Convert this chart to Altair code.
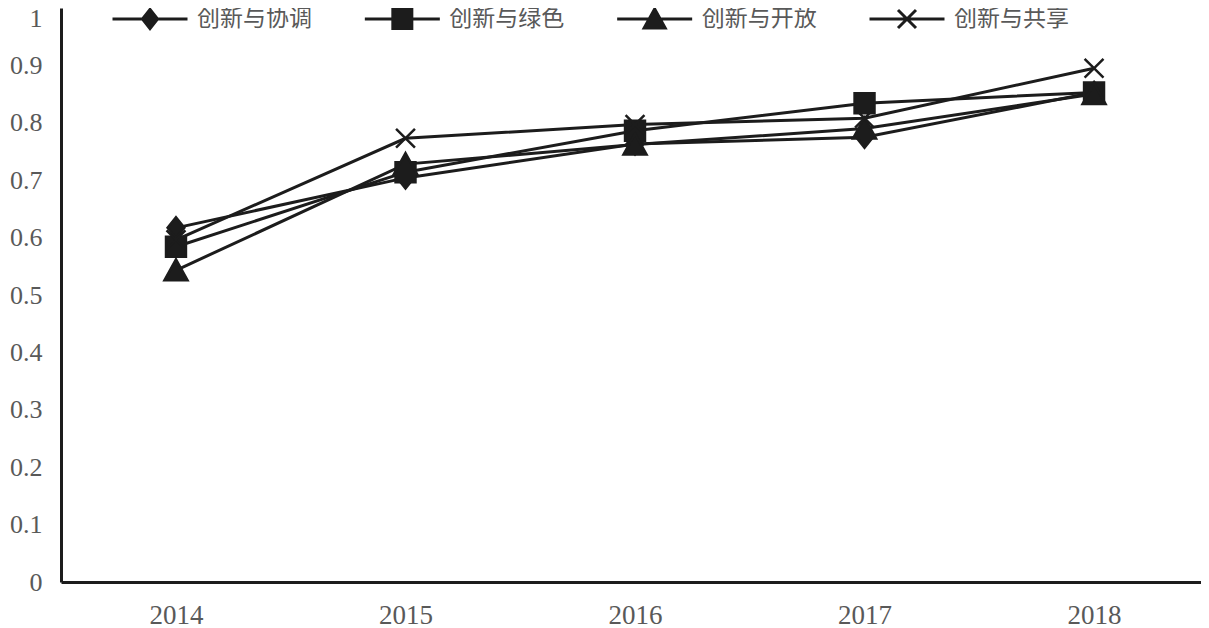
import altair as alt
import pandas as pd

# ---- data ----
years = [2014, 2015, 2016, 2017, 2018]
series = ["创新与协调", "创新与绿色", "创新与开放", "创新与共享"]
v_xietiao = [0.617, 0.704, 0.763, 0.775, 0.853]
v_lvse = [0.584, 0.714, 0.786, 0.834, 0.853]
v_kaifang = [0.543, 0.728, 0.762, 0.790, 0.850]
v_gongxiang = [0.596, 0.773, 0.797, 0.808, 0.895]
y_ticks = [0, 0.1, 0.2, 0.3, 0.4, 0.5, 0.6, 0.7, 0.8, 0.9, 1]
legend_slot = [0, 1, 2, 3]

rows = []
for name, vals in zip(series, [v_xietiao, v_lvse, v_kaifang, v_gongxiang]):
    for yr, v in zip(years, vals):
        rows.append({"year": yr, "series": name, "value": v})
df = pd.DataFrame(rows)
legend_df = pd.DataFrame({"series": series, "slot": legend_slot})

INK = "#1c1c1c"
LABEL = "#595959"

# marker shapes (unit paths, scaled by symbol size)
marker_paths = [
    "M0,-1L0.8,0L0,1L-0.8,0Z",
    "M-0.95,-0.95H0.95V0.95H-0.95Z",
    "M0,-1.05L1.1,0.95H-1.1Z",
    "M-0.9,-0.9L0.9,0.9M-0.9,0.9L0.9,-0.9",
]
# legend symbols: a line through the marker
legend_paths = [
    "M-3.75,0L3.75,0M0,-0.95L0.75,0L0,0.95L-0.75,0Z",
    "M-3.75,0L3.75,0M-0.95,-0.95L0.95,-0.95L0.95,0.95L-0.95,0.95Z",
    "M-3.75,0L3.75,0M0,-1L1.05,0.9L-1.05,0.9Z",
    "M-3.75,0L3.75,0M-0.9,-0.9L0.9,0.9M-0.9,0.9L0.9,-0.9",
]

x_enc = alt.X(
    "year:Q",
    scale=alt.Scale(domain=[2013.499, 2018.466], nice=False, zero=False),
    axis=alt.Axis(values=years, format="d", title=None, labelFontSize=27,
                  labelPadding=20, labelOverlap=False, labelFlush=False),
)
y_enc = alt.Y(
    "value:Q",
    scale=alt.Scale(domain=[0, 1], nice=False),
    axis=alt.Axis(
        values=y_ticks, format="~g", title=None, labelFontSize=26,
        labelPadding=19, labelOverlap=False, labelFlush=False,
        labelOffset=alt.ConditionalAxisNumber(
            condition={"test": "datum.value >= 1", "value": 10}, value=0
        ),
    ),
)

lines = alt.Chart(df).mark_line(color=INK, strokeWidth=3).encode(
    x=x_enc, y=y_enc, detail="series:N"
)

points = alt.Chart(df).mark_point(
    filled=True, opacity=1, color=INK, stroke=INK, strokeWidth=2.5
).encode(
    x=x_enc,
    y=y_enc,
    shape=alt.Shape("series:N", scale=alt.Scale(domain=series, range=marker_paths), legend=None),
    size=alt.value(440),
)

main = alt.layer(lines, points)

# ---- legend row at the top, drawn from the legend table ----
leg_x = alt.X("slot:Q", scale=alt.Scale(domain=[0, 3], range=[89, 846], nice=False, zero=False), axis=None)

leg_sym = alt.Chart(legend_df).mark_point(
    filled=True, opacity=1, color=INK, stroke=INK, strokeWidth=3
).encode(
    x=leg_x,
    y=alt.value(11),
    shape=alt.Shape("series:N", scale=alt.Scale(domain=series, range=legend_paths), legend=None),
    size=alt.value(400),
)

leg_text = alt.Chart(legend_df).mark_text(
    align="left", baseline="middle", dx=47, font="Noto Sans CJK SC",
    fontSize=23, color=LABEL
).encode(
    x=leg_x,
    y=alt.value(11),
    text="series:N",
)

legend = alt.layer(leg_sym, leg_text)

chart = (
    alt.layer(main, legend)
    .resolve_scale(x="independent", shape="independent")
    .properties(
        width=1140,
        height=574,
        padding={"left": 53, "top": 0, "right": 0, "bottom": 46},
        autosize=alt.AutoSizeParams(type="none"),
        background="white",
    )
    .configure_view(stroke=None)
    .configure_axis(
        domainColor=INK,
        domainWidth=3,
        ticks=False,
        tickSize=0,
        grid=False,
        labelFont="Liberation Serif",
        labelColor=LABEL,
    )
)

chart.save("out.html", embed_options={"renderer": "svg", "actions": False})
